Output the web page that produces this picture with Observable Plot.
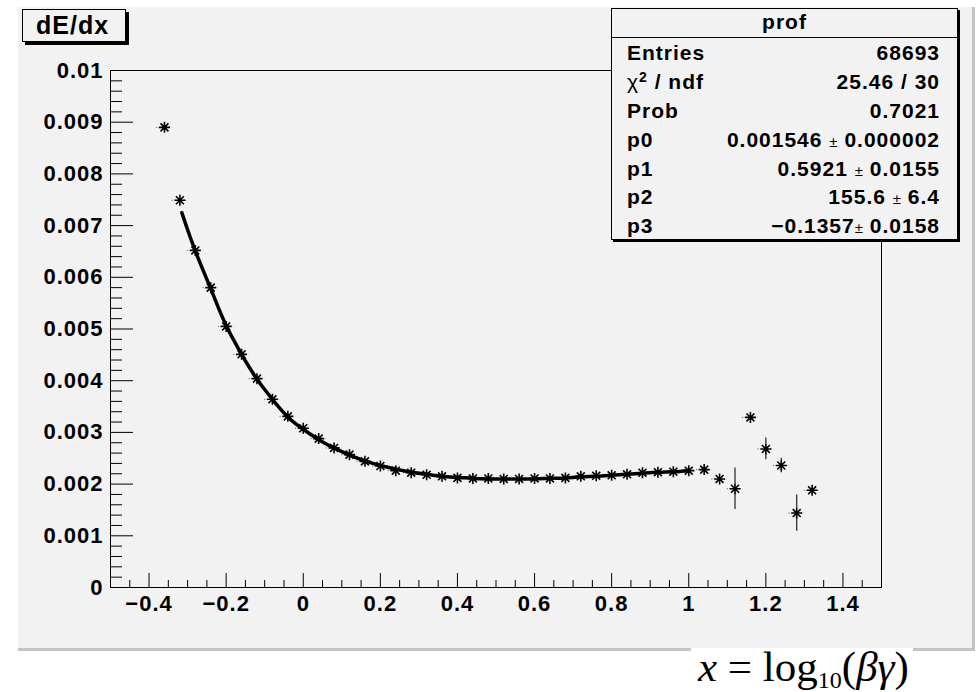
<!DOCTYPE html>
<html>
<head>
<meta charset="utf-8">
<script src="https://cdn.jsdelivr.net/npm/d3@7"></script>
<script src="https://cdn.jsdelivr.net/npm/@observablehq/plot@0.6"></script>
<style>
  body { margin: 0; background: #fff; }
  #wrap { position: relative; width: 980px; height: 692px; overflow: hidden;
          font-family: "Liberation Sans", Arial, Helvetica, sans-serif; color: #000; }
  #pad { position: absolute; left: 18px; top: 7px; width: 954px; height: 641px;
         background: #f2f2f2; border-right: 3px solid #c4c4c4; border-bottom: 3px solid #c4c4c4; }
  #chart { position: absolute; left: 0; top: 0; }
  #chart svg text { letter-spacing: 1px; }
  .box { position: absolute; box-sizing: border-box; background: #f2f2f2; border: 1px solid #000; }
  .txt { position: absolute; font-weight: bold; font-size: 21px; line-height: 21px; white-space: nowrap; letter-spacing: 1px; }
  .row { display: flex; justify-content: space-between; }
  .pm { font-weight: normal; font-size: 15px; letter-spacing: 0; }
  #formula { position: absolute; left: 691px; top: 648px; width: 222px; height: 44px; background: #fff;
             font-family: "Liberation Serif", "Times New Roman", serif; font-size: 43px; line-height: 43px; white-space: nowrap; }
</style>
</head>
<body>
<div id="wrap">
  <div id="pad"></div>
  <div id="chart"></div>
  <!-- title box -->
  <div class="box" style="left:22px;top:9px;width:104px;height:33px;box-shadow:3px 3px 0 #000;"></div>
  <div class="txt" id="title" style="left:36px;top:13px;font-size:25px;line-height:25px;"></div>
  <!-- stats box -->
  <div class="box" style="left:611px;top:8px;width:347px;height:232px;box-shadow:2px 2px 0 #000;"></div>
  <div style="position:absolute;left:611px;top:37px;width:347px;height:1px;background:#000;"></div>
  <div class="txt" id="statTitle" style="left:611px;width:347px;top:11px;text-align:center;"></div>
  <div id="stats"></div>
  <div id="formula"><div style="position:absolute;left:7px;top:-3px;"><i>x</i> = log<span style="font-size:24px;position:relative;top:7px;">10</span>(<i>βγ</i>)</div></div>
</div>
<script>
// ---- data ----
const binX = [-0.36, -0.32, -0.28, -0.24, -0.20, -0.16, -0.12, -0.08, -0.04, 0.00,
              0.04, 0.08, 0.12, 0.16, 0.20, 0.24, 0.28, 0.32, 0.36, 0.40,
              0.44, 0.48, 0.52, 0.56, 0.60, 0.64, 0.68, 0.72, 0.76, 0.80,
              0.84, 0.88, 0.92, 0.96, 1.00, 1.04, 1.08, 1.12, 1.16, 1.20,
              1.24, 1.28, 1.32];
const meanY = [0.00890, 0.00749, 0.00652, 0.00580, 0.00505, 0.00451, 0.00404, 0.00364, 0.00331, 0.00308,
               0.00288, 0.00270, 0.00257, 0.00244, 0.00235, 0.00226, 0.00222, 0.00218, 0.00215, 0.00212,
               0.00211, 0.00211, 0.00210, 0.00210, 0.00211, 0.00211, 0.00212, 0.00215, 0.00216, 0.00217,
               0.00219, 0.00222, 0.00223, 0.00224, 0.00226, 0.00228, 0.00210, 0.00191, 0.00329, 0.00268,
               0.00236, 0.00144, 0.00188];
const errY  = [0.00003, 0.00002, 0.00002, 0.00001, 0.00001, 0.00001, 0.00001, 0.00001, 0.00001, 0.00001,
               0.00001, 0.00001, 0.00001, 0.00001, 0.00001, 0.00001, 0.00001, 0.00001, 0.00001, 0.00001,
               0.00001, 0.00001, 0.00001, 0.00001, 0.00001, 0.00001, 0.00001, 0.00001, 0.00001, 0.00001,
               0.00001, 0.00001, 0.00001, 0.00002, 0.00002, 0.00003, 0.00005, 0.00040, 0.00005, 0.00021,
               0.00014, 0.00035, 0.00006];
const binHalfWidth = 0.02;

// fitted curve
const fitX = [-0.315, -0.30, -0.28, -0.26, -0.24, -0.22, -0.20, -0.18, -0.16, -0.14, -0.12, -0.10, -0.08, -0.06, -0.04, -0.02,
              0.00, 0.04, 0.08, 0.12, 0.16, 0.20, 0.24, 0.28, 0.32, 0.36, 0.40, 0.44, 0.48, 0.52, 0.56,
              0.60, 0.64, 0.68, 0.72, 0.76, 0.80, 0.84, 0.88, 0.92, 0.96, 1.00];
const fitY = [0.00725, 0.00692, 0.00651, 0.00614, 0.00578, 0.00541, 0.00507, 0.00478, 0.00451, 0.00426, 0.00403, 0.00383, 0.00364, 0.00346, 0.00330, 0.00317,
              0.00306, 0.00286, 0.00270, 0.00256, 0.00245, 0.00236, 0.00229, 0.00223, 0.00219, 0.00215, 0.00213, 0.00211, 0.00210, 0.00210, 0.00210,
              0.00210, 0.00211, 0.00212, 0.00214, 0.00215, 0.00217, 0.00219, 0.00221, 0.00223, 0.00224, 0.00226];

const xTicks = [-0.4, -0.2, 0, 0.2, 0.4, 0.6, 0.8, 1, 1.2, 1.4];
const yTicks = [0, 0.001, 0.002, 0.003, 0.004, 0.005, 0.006, 0.007, 0.008, 0.009, 0.01];

const titleText = "dE/dx";
const statName = "prof";
const statLabels = ["Entries", "χ² / ndf", "Prob", "p0", "p1", "p2", "p3"];
const statValues = ["68693", "25.46 / 30", "0.7021", "0.001546 ± 0.000002", "0.5921 ± 0.0155", "155.6 ± 6.4", "−0.1357± 0.0158"];

// ---- build ----
const points = binX.map((x, i) => ({x, y: meanY[i], e: errY[i]}));
const fit = fitX.map((x, i) => ({x, y: fitY[i]}));
const xMinor = d3.range(-0.5, 1.5001, 0.05).map(v => +v.toFixed(3)).filter(v => !xTicks.some(t => Math.abs(t - v) < 1e-6));
const yMinor = d3.range(0, 0.01001, 0.0002).map(v => +v.toFixed(5)).filter(v => !yTicks.some(t => Math.abs(t - v) < 1e-9));
const fmt = d => String(+(+d).toFixed(4)).replace("-", "\u2212");

const W = 980, H = 692, mL = 110, mR = 99, mT = 70, mB = 105;
const fw = W - mL - mR, fh = H - mT - mB;
const gap = 5;

const rootStar = {
  draw(ctx, size) {
    const r = Math.sqrt(size / Math.PI), d = r * 0.72;
    ctx.moveTo(-r, 0); ctx.lineTo(r, 0);
    ctx.moveTo(0, -r); ctx.lineTo(0, r);
    ctx.moveTo(-d, -d); ctx.lineTo(d, d);
    ctx.moveTo(-d, d); ctx.lineTo(d, -d);
  }
};

const chart = Plot.plot({
  width: W, height: H,
  marginLeft: mL, marginRight: mR, marginTop: mT, marginBottom: mB,
  style: {background: "transparent", color: "#000", fontFamily: "'Liberation Sans', Arial, sans-serif", overflow: "visible"},
  x: {domain: [-0.5, 1.5]},
  y: {domain: [0, 0.01]},
  marks: [
    Plot.frame({stroke: "#000", strokeWidth: 1}),
    Plot.tickY(yTicks, {y: d => d, insetRight: fw - 23, stroke: "#000"}),
    Plot.tickY(yMinor, {y: d => d, insetRight: fw - 12, stroke: "#000"}),
    Plot.tickX(xTicks, {x: d => d, insetTop: fh - 14, stroke: "#000"}),
    Plot.tickX(xMinor, {x: d => d, insetTop: fh - 7, stroke: "#000"}),
    Plot.axisY(yTicks, {tickSize: 0, tickPadding: 7, tickFormat: fmt, fontSize: 22, fontWeight: "bold", label: null}),
    Plot.axisX(xTicks, {tickSize: 0, tickPadding: 8, tickFormat: fmt, fontSize: 22, fontWeight: "bold", label: null}),
    // horizontal error bars (bin half-widths), gap around marker
    Plot.ruleY(points, {y: "y", x1: d => d.x - binHalfWidth, x2: "x", insetRight: gap, stroke: "#555", strokeWidth: 1, strokeDasharray: "1,1.5"}),
    Plot.ruleY(points, {y: "y", x1: "x", x2: d => d.x + binHalfWidth, insetLeft: gap, stroke: "#555", strokeWidth: 1, strokeDasharray: "1,1.5"}),
    // vertical error bars
    Plot.ruleX(points.filter(d => d.e > 0.0001), {x: "x", y1: d => d.y + d.e, y2: "y", insetBottom: gap, stroke: "#333", strokeWidth: 1.3}),
    Plot.ruleX(points.filter(d => d.e > 0.0001), {x: "x", y1: "y", y2: d => d.y - d.e, insetTop: gap, stroke: "#333", strokeWidth: 1.3}),
    // fit curve
    Plot.line(fit, {x: "x", y: "y", curve: "natural", stroke: "#000", strokeWidth: 3.5}),
    // markers
    Plot.dot(points, {x: "x", y: "y", r: 5.5, symbol: rootStar, stroke: "#000", fill: "none", strokeWidth: 1.6})
  ]
});
document.getElementById("chart").appendChild(chart);

// texts
document.getElementById("title").textContent = titleText;
document.getElementById("statTitle").textContent = statName;
const baselines = [60, 89, 118, 147, 175.5, 204, 233];
const stats = document.getElementById("stats");
statLabels.forEach((lab, i) => {
  const row = document.createElement("div");
  row.className = "txt row";
  row.style.left = "627px"; row.style.width = "313px"; row.style.top = (baselines[i] - 18) + "px";
  const l = document.createElement("span");
  if (lab.startsWith("χ")) {
    l.innerHTML = '<span style="font-weight:normal">χ</span><span style="font-size:14px;position:relative;top:-7px;">2</span>' + lab.slice(2);
  } else l.textContent = lab;
  const v = document.createElement("span");
  v.innerHTML = statValues[i].replace("±", '<span class="pm">±</span>');
  row.appendChild(l); row.appendChild(v);
  stats.appendChild(row);
});
</script>
</body>
</html>
